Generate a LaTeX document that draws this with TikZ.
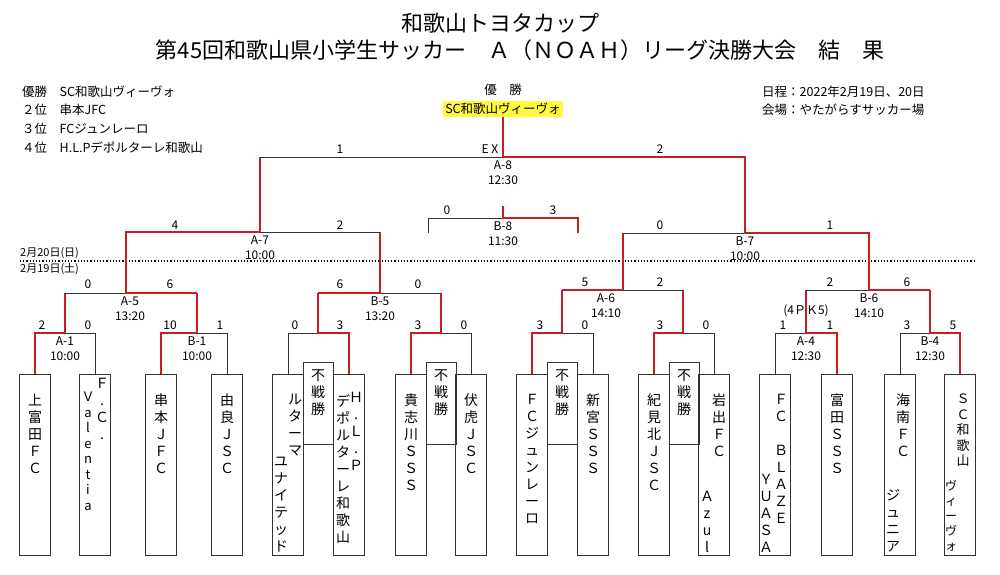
\documentclass[tikz,border=0pt]{standalone}
\usepackage{fontspec}
\setmainfont{Noto Sans CJK JP}
\usetikzlibrary{positioning}
\definecolor{winred}{RGB}{200,30,35}
\definecolor{hlyellow}{RGB}{255,250,60}
\tikzset{
  win/.style={draw=winred,line width=2.5pt},
  los/.style={draw=black!80,line width=0.7pt},
  teambox/.style={draw=black!80,line width=0.7pt,minimum width=31pt,minimum height=181pt,anchor=north,inner sep=0pt},
  byebox/.style={draw=black!80,line width=0.7pt,minimum width=30pt,minimum height=82pt,anchor=north,inner sep=0pt},
  vcol/.style={align=center,inner sep=0pt,font=\fontsize{14}{17}\selectfont},
  score/.style={font=\fontsize{12}{13}\selectfont,inner sep=1pt},
  matchlbl/.style={font=\fontsize{12}{15}\selectfont,align=center,anchor=north,inner sep=1pt},
  info/.style={font=\fontsize{12.5}{14}\selectfont,anchor=west,inner sep=0pt}
}
\begin{document}
\begin{tikzpicture}[x=1pt,y=-1pt]
\useasboundingbox (0,0) rectangle (1000,574);
% -- title and info
\node[font=\fontsize{22}{24}\selectfont] (title1) at (500,23) {和歌山トヨタカップ};
\node[font=\fontsize{22}{24}\selectfont] (title2) at (520,50) {第45回和歌山県小学生サッカー　Ａ（ＮＯＡＨ）リーグ決勝大会　結　果};
\node[info] (r1) at (22,92) {優勝　SC和歌山ヴィーヴォ};
\node[info] (r2) at (22,110) {２位　串本JFC};
\node[info] (r3) at (22,129) {３位　FCジュンレーロ};
\node[info] (r4) at (22,148) {４位　H.L.Pデポルターレ和歌山};
\node[info] (date) at (762,92) {日程：2022年2月19日、20日};
\node[info] (place) at (762,110) {会場：やたがらすサッカー場};
\node[font=\fontsize{12.5}{13}\selectfont] (champ) at (503,90) {優　勝};
\node[fill=hlyellow,font=\fontsize{12.5}{13}\selectfont,inner sep=2pt,anchor=north] (winner) at (503,101) {SC和歌山ヴィーヴォ};
% -- day separator
\draw[dotted,line width=1.2pt] (20,261) -- (975,261);
\node[info,font=\fontsize{11}{12}\selectfont] (day2) at (20,253) {2月20日(日)};
\node[info,font=\fontsize{11}{12}\selectfont] (day1) at (20,269) {2月19日(土)};
% -- team boxes
\foreach \n/\x in {1/35,2/95,3/161,4/227,5/288,7/349,8/411,10/471,11/532,13/593,14/654,16/714,17/775,18/837,19/900,20/960}
  \node[teambox] (t\n) at (\x,374) {};
\foreach \n/\x in {6/318,9/441,12/562,15/684}
  \node[byebox] (t\n) at (\x,362) {};
\foreach \n in {6,9,12,15}
  \node[vcol,below=8pt of t\n.north] {不\\戦\\勝};
% -- team names
\node[vcol,below=20pt of t1.north] {上\\富\\田\\Ｆ\\Ｃ};
\node[vcol,below=4pt of t2.north,xshift=7pt] {Ｆ\\.\\Ｃ\\.};
\node[vcol,below=18pt of t2.north,xshift=-7pt,font=\fontsize{13}{15.5}\selectfont] {Ｖ\\a\\l\\e\\n\\t\\i\\a};
\node[vcol,below=20pt of t3.north] {串\\本\\Ｊ\\Ｆ\\Ｃ};
\node[vcol,below=20pt of t4.north] {由\\良\\Ｊ\\Ｓ\\Ｃ};
\node[vcol,below=20pt of t5.north,xshift=7pt] {ル\\タ\\ー\\マ};
\node[vcol,above=3pt of t5.south,xshift=-7pt] {ユ\\ナ\\イ\\テ\\ッ\\ド};
\node[vcol,below=18pt of t7.north,xshift=7pt] {Ｈ\\.\\Ｌ\\.\\Ｐ};
\node[vcol,below=20pt of t7.north,xshift=-6pt] {デ\\ポ\\ル\\タ\\ー\\レ\\和\\歌\\山};
\node[vcol,below=20pt of t8.north] {貴\\志\\川\\Ｓ\\Ｓ\\Ｓ};
\node[vcol,below=20pt of t10.north] {伏\\虎\\Ｊ\\Ｓ\\Ｃ};
\node[vcol,below=20pt of t11.north] {Ｆ\\Ｃ\\ジ\\ュ\\ン\\レ\\ー\\ロ};
\node[vcol,below=20pt of t13.north] {新\\宮\\Ｓ\\Ｓ\\Ｓ};
\node[vcol,below=20pt of t14.north] {紀\\見\\北\\Ｊ\\Ｓ\\Ｃ};
\node[vcol,below=20pt of t16.north,xshift=5pt] {岩\\出\\Ｆ\\Ｃ};
\node[vcol,above=3pt of t16.south,xshift=-7pt] {Ａ\\z\\u\\l};
\node[vcol,below=20pt of t17.north,xshift=6pt] {Ｆ\\Ｃ\\\\Ｂ\\Ｌ\\Ａ\\Ｚ\\Ｅ};
\node[vcol,above=3pt of t17.south,xshift=-9pt] {Ｙ\\Ｕ\\Ａ\\Ｓ\\Ａ};
\node[vcol,below=20pt of t18.north] {富\\田\\Ｓ\\Ｓ\\Ｓ};
\node[vcol,below=20pt of t19.north,xshift=3pt] {海\\南\\Ｆ\\Ｃ};
\node[vcol,above=3pt of t19.south,xshift=-7pt] {ジ\\ュ\\ニ\\ア};
\node[vcol,below=20pt of t20.north,xshift=3pt,font=\fontsize{13}{15.5}\selectfont] {Ｓ\\Ｃ\\和\\歌\\山};
\node[vcol,above=4pt of t20.south,xshift=-9pt,font=\fontsize{12}{15}\selectfont] {ヴ\\ィ\\ー\\ヴ\\ォ};
% -- first round
\draw[win] (t1.north) |- (65,333) -- (65,293);
\draw[los] (t2.north) |- (65,333);
\draw[win] (t3.north) |- (197,333) -- (197,293);
\draw[los] (t4.north) |- (197,333);
\draw[los] (t5.north) |- (318,333);
\draw[win] (t7.north) |- (318,333) -- (318,293);
\draw[win] (t8.north) |- (441,333) -- (441,293);
\draw[los] (t10.north) |- (441,333);
\draw[win] (t11.north) |- (562,333) -- (562,290);
\draw[los] (t13.north) |- (562,333);
\draw[win] (t14.north) |- (683,333) -- (683,290);
\draw[los] (t16.north) |- (683,333);
\draw[los] (t17.north) |- (806,333);
\draw[win] (t18.north) |- (806,333) -- (806,290);
\draw[los] (t19.north) |- (930,333);
\draw[win] (t20.north) |- (930,333) -- (930,290);
% -- later rounds
\draw[los] (65,293) -- (126,293);
\draw[win] (197,293) -- (126,293) -- (126,232) -- (260,232) -- (260,157);
\draw[los] (441,293) -- (380,293);
\draw[win] (318,293) -- (380,293) -- (380,232);
\draw[los] (380,232) -- (260,232);
\draw[win] (562,290) -- (623,290) -- (623,233);
\draw[los] (623,290) -- (683,290);
\draw[los] (623,233) -- (745,233);
\draw[los] (806,290) -- (869,290);
\draw[win] (930,290) -- (869,290) -- (869,233) -- (745,233) -- (745,157) -- (503,157) -- (winner.south);
\draw[los] (260,157) -- (503,157);
\draw[los] (428,233) |- (503,218);
\draw[win] (578,233) |- (503,218) -- (503,206);
% -- scores
\foreach \x/\y/\s in {42/325/2,88/325/0,170/325/10,220/325/1,295/325/0,340/325/3,418/325/3,464/325/0,
  540/325/3,585/325/0,660/325/3,706/325/0,783/325/1,830/325/1,907/325/3,953/325/5,
  88/284/0,170/284/6,340/284/6,418/284/0,585/282/5,660/282/2,830/282/2,907/282/6,
  175/225/4,340/225/2,660/225/0,830/225/1,447/210/0,553/210/3,340/149/1,660/149/2}
  \node[score] at (\x,\y) {\s};
\node[score] at (490,149) {E X};
\node[score] at (806,311) {(4ＰＫ5)};
% -- match labels
\foreach \x/\y/\m/\t in {65/335/A-1/10:00,197/335/B-1/10:00,130/295/A-5/13:20,380/295/B-5/13:20,
  606/292/A-6/14:10,869/292/B-6/14:10,806/335/A-4/12:30,930/335/B-4/12:30,
  260/234/A-7/10:00,745/235/B-7/10:00,503/220/B-8/11:30,503/159/A-8/12:30}
  \node[matchlbl] at (\x,\y) {\m\\\t};
\end{tikzpicture}
\end{document}
